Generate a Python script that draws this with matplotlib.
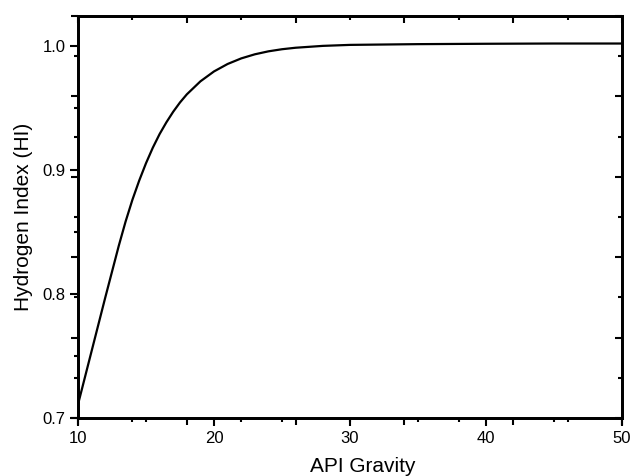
import numpy as np
import matplotlib
matplotlib.use("Agg")
import matplotlib.pyplot as plt

# valores
api_gravity = [10, 11, 12, 13, 13.5, 14, 14.5, 15, 15.5, 16, 16.5, 17, 17.5, 18, 19, 20,
               21, 22, 23, 24, 25, 26, 28, 30, 35, 40, 45, 50]
hydrogen_index = [0.711, 0.754, 0.797, 0.839, 0.8585, 0.876, 0.8915, 0.9055, 0.918, 0.929,
                  0.9385, 0.947, 0.9545, 0.961, 0.9715, 0.9795, 0.9855, 0.990, 0.9933, 0.9957,
                  0.9974, 0.9986, 1.0001, 1.0009, 1.0015, 1.0018, 1.002, 1.002]

x_ticks = [10, 20, 30, 40, 50]
y_ticks = [0.7, 0.8, 0.9, 1.0]

plt.rcParams['font.family'] = ['Liberation Sans', 'DejaVu Sans']

fig = plt.figure(figsize=(6.41, 4.76), dpi=100)
ax = fig.add_axes([0.1217, 0.1218, 0.8487, 0.8446])

ax.plot(api_gravity, hydrogen_index, color='black', linewidth=1.6)

xmin, xmax = 10, 50
ymin, ymax = 0.7, 1.0242
ax.set_xlim(xmin, xmax)
ax.set_ylim(ymin, ymax)

ax.set_xticks(x_ticks)
ax.set_xticks([15, 25, 35, 45], minor=True)
ax.set_yticks(y_ticks)
ax.set_yticks([0.75, 0.85, 0.95], minor=True)
ax.set_yticklabels(['0.7', '0.8', '0.9', '1.0'])
ax.tick_params(which='major', direction='out', length=6, width=1.5, labelsize=12, pad=3)
ax.tick_params(which='minor', direction='out', length=3, width=1.5)
ax.tick_params(top=False, right=False)

for s in ax.spines.values():
    s.set_linewidth(2)

# segunda capa de marcas (como en el grafico original de Origin)
tx_major = np.linspace(xmin, xmax, 6)
tx_minor = np.linspace(xmin, xmax, 11)
ty_major = np.linspace(ymin, ymax, 6)
ty_minor = np.linspace(ymin, ymax, 11)

for loc, d in [('top', 'in'), (0.0, 'out')]:
    sx = ax.secondary_xaxis(loc)
    sx.set_xticks(tx_major)
    sx.set_xticks(tx_minor, minor=True)
    sx.tick_params(which='major', direction=d, length=5, width=1.5, labelsize=0)
    sx.tick_params(which='minor', direction=d, length=3, width=1.5)
    sx.set_xticklabels([])
    sx.spines[:].set_linewidth(2)

for loc, d in [('right', 'in'), (0.0, 'out')]:
    sy = ax.secondary_yaxis(loc)
    sy.set_yticks(ty_major)
    sy.set_yticks(ty_minor, minor=True)
    sy.tick_params(which='major', direction=d, length=5, width=1.5, labelsize=0)
    sy.tick_params(which='minor', direction=d, length=3, width=1.5)
    sy.set_yticklabels([])
    sy.spines[:].set_linewidth(2)

ax.set_xlabel("API Gravity", fontsize=15)
ax.set_ylabel("Hydrogen Index (HI)", fontsize=15)
ax.xaxis.set_label_coords(0.524, -0.097)
ax.yaxis.set_label_coords(-0.083, 0.5)

plt.savefig("out.png", dpi=100)
plt.close()
